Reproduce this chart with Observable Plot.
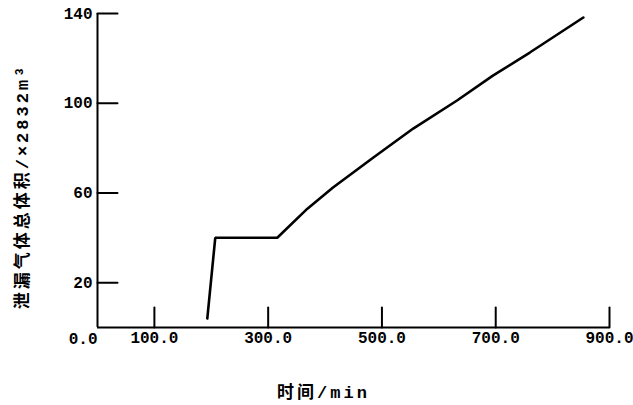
<!DOCTYPE html>
<html>
<head>
<meta charset="utf-8">
<script src="https://cdn.jsdelivr.net/npm/d3@7"></script>
<script src="https://cdn.jsdelivr.net/npm/@observablehq/plot@0.6"></script>
<style>
  html, body { margin: 0; padding: 0; background: #fff; }
</style>
</head>
<body>
<div id="chart"></div>
<script>
// Data
const timeMin = [193, 207, 316, 369, 414, 485, 555, 632, 695, 760, 854];
const volume  = [4, 40, 40, 53, 62.4, 75.8, 88.7, 101.2, 112.3, 122.6, 138.2];
const xTicks = [100, 300, 500, 700, 900];
const yTicks = [20, 60, 100, 140];
const xLabel = "时间/min";
const yLabel = "泄漏气体总体积/×2832m³";
const originLabel = "0.0";

const data = timeMin.map((t, i) => ({t, v: volume[i]}));
const tickShape = {draw(ctx, l) { ctx.moveTo(0, 0); ctx.lineTo(0, -l); }};
const font = "'Liberation Mono', 'Noto Sans CJK SC', monospace";

const chart = Plot.plot({
  width: 633,
  height: 405,
  marginLeft: 97,
  marginRight: 24,
  marginTop: 13,
  marginBottom: 78,
  style: {fontFamily: font, fontSize: "16px", fontWeight: "bold", color: "#000", background: "#fff"},
  x: {domain: [0, 900]},
  y: {domain: [0, 140]},
  marks: [
    Plot.axisX(xTicks, {tickSize: 0, tickPadding: 4, tickFormat: d => d.toFixed(1), label: null}),
    Plot.axisY(yTicks, {tickSize: 0, tickPadding: 5, tickFormat: d => String(d), label: null}),
    Plot.ruleY([0], {stroke: "#000", strokeWidth: 2}),
    Plot.ruleX([0], {stroke: "#000", strokeWidth: 2}),
    Plot.vector(xTicks, {x: d => d, y: 0, length: 20, rotate: 0, anchor: "start", shape: tickShape, stroke: "#000", strokeWidth: 2}),
    Plot.vector(yTicks, {x: 0, y: d => d, length: 20, rotate: 90, anchor: "start", shape: tickShape, stroke: "#000", strokeWidth: 2}),
    Plot.text([originLabel], {x: 0, y: 0, text: d => d, textAnchor: "end", dx: 0, dy: 11, fontSize: 16, fontWeight: "bold"}),
    Plot.line(data, {x: "t", y: "v", stroke: "#000", strokeWidth: 2.6, strokeLinejoin: "miter"}),
    Plot.text([xLabel], {frameAnchor: "bottom", text: d => d, textAnchor: "middle", lineAnchor: "middle", dx: -30, dy: 65, fontSize: 17, fontWeight: "bold"}),
    Plot.text([yLabel], {frameAnchor: "left", text: d => d, textAnchor: "middle", lineAnchor: "middle", rotate: -90, dx: -75, dy: 16, fontSize: 17, fontWeight: "bold"})
  ]
});
d3.select(chart).selectAll("text")
  .filter(function() { return this.textContent === xLabel || this.textContent === yLabel; })
  .style("letter-spacing", "3px");
document.getElementById("chart").appendChild(chart);
</script>
</body>
</html>
